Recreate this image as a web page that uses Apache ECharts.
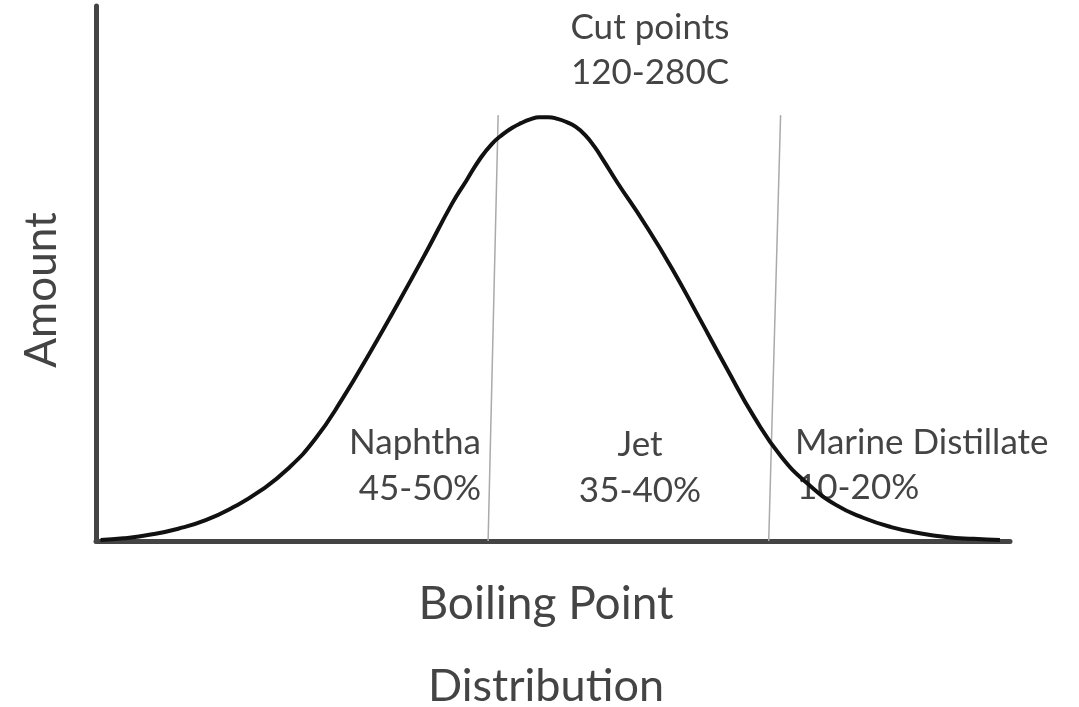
<!DOCTYPE html>
<html>
<head>
<meta charset="utf-8">
<script src="https://cdn.jsdelivr.net/npm/echarts@6/dist/echarts.min.js"></script>
<style>
  html, body { margin: 0; padding: 0; background: #fff; }
  #chart { width: 1079px; height: 707px; }
</style>
</head>
<body>
<div id="chart"></div>
<script>
// boiling point curve (x: 0-100 along the axis, y: 0-100 up)
const curveX = [0.5, 3, 6, 9, 12, 15, 18, 21, 24, 27, 30, 33, 36, 39, 40.5, 42, 43.3, 44.5,
  45.5, 46.5, 47.5, 48.5, 49.5, 50.5, 51.5, 52.5, 53.5, 54.5, 55.5, 57, 60, 63, 66, 69, 72,
  75, 78, 81, 84, 87, 90, 93, 96, 98.9];
const curveY = [0.2, 0.5, 1.2, 2.3, 3.9, 6.3, 9.4, 13.5, 19.1, 26.7, 35.3, 44.3, 53.6, 63.2,
  67.3, 71.4, 74.2, 76.0, 77.2, 78.1, 78.8, 79.2, 79.2, 78.9, 78.3, 77.4, 75.9, 73.8, 71.2,
  67.1, 59.4, 51.0, 41.7, 32.3, 23.2, 15.7, 10.5, 6.7, 4.3, 2.6, 1.5, 0.75, 0.4, 0.2];

// cut point lines (slightly tilted in the original)
const cutLow = [[42.9, 0], [44.0, 79.6]];
const cutHigh = [[73.6, 0], [74.9, 79.6]];

const font = 'Lato, "Open Sans", sans-serif';
const textColor = '#444';

const chart = echarts.init(document.getElementById('chart'));

const txt = (text, x, y, align, size) => ({
  type: 'text',
  x: x,
  y: y,
  style: {
    text: text,
    fill: textColor,
    font: (size || 35) + 'px ' + font,
    textAlign: align || 'center',
    textVerticalAlign: 'middle'
  }
});

const option = {
  animation: false,
  grid: { left: 96, right: 69, top: 6, bottom: 166 },
  xAxis: {
    type: 'value',
    min: 0,
    max: 100,
    axisLine: { show: true, lineStyle: { color: '#444', width: 5 } },
    axisTick: { show: false },
    axisLabel: { show: false },
    splitLine: { show: false }
  },
  yAxis: {
    type: 'value',
    min: 0,
    max: 100,
    axisLine: { show: true, lineStyle: { color: '#444', width: 5 } },
    axisTick: { show: false },
    axisLabel: { show: false },
    splitLine: { show: false }
  },
  series: [
    {
      type: 'line',
      data: curveX.map((x, i) => [x, curveY[i]]),
      smooth: 0.5,
      symbol: 'none',
      lineStyle: { color: '#111', width: 4 },
      z: 3
    },
    {
      type: 'line',
      data: cutLow,
      symbol: 'none',
      lineStyle: { color: '#aaa', width: 1.5 },
      z: 2
    },
    {
      type: 'line',
      data: cutHigh,
      symbol: 'none',
      lineStyle: { color: '#aaa', width: 1.5 },
      z: 2
    }
  ],
  graphic: [
    txt('Cut points', 650, 28),
    txt('120-280C', 650, 73),
    txt('Naphtha', 481, 443, 'right'),
    txt('45-50%', 481, 489, 'right'),
    txt('Jet', 640, 445),
    txt('35-40%', 640, 491),
    txt('Marine Distillate', 795, 443, 'left'),
    txt('10-20%', 797, 488, 'left'),
    txt('Boiling Point', 546, 604, 'center', 46),
    txt('Distribution', 546, 686, 'center', 45),
    {
      type: 'text',
      x: 42,
      y: 290,
      rotation: Math.PI / 2,
      style: {
        text: 'Amount',
        fill: textColor,
        font: '44px ' + font,
        textAlign: 'center',
        textVerticalAlign: 'middle'
      }
    }
  ]
};

chart.setOption(option);
window.addEventListener('resize', () => chart.resize());
</script>
</body>
</html>
